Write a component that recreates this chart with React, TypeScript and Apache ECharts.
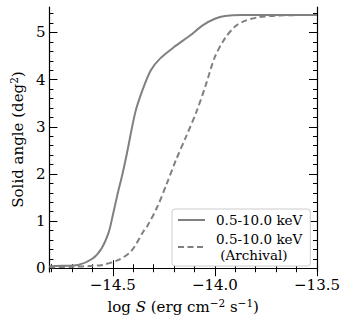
import React, { useEffect, useRef } from "react";
import * as echarts from "echarts";

const solidX = [-14.81, -14.75, -14.67, -14.6, -14.555, -14.52, -14.5, -14.475, -14.455, -14.43, -14.39, -14.355, -14.315, -14.27, -14.2, -14.12, -14.06, -14.0, -13.95, -13.87, -13.7, -13.5];
const solidY = [0.04, 0.05, 0.07, 0.2, 0.42, 0.76, 1.12, 1.6, 1.95, 2.45, 3.3, 3.77, 4.19, 4.44, 4.69, 4.94, 5.15, 5.29, 5.35, 5.37, 5.37, 5.37];

const archX = [-14.81, -14.7, -14.6, -14.55, -14.475, -14.41, -14.35, -14.33, -14.28, -14.235, -14.19, -14.14, -14.09, -14.045, -14.0, -13.95, -13.9, -13.85, -13.79, -13.69, -13.5];
const archY = [0.02, 0.03, 0.05, 0.07, 0.17, 0.36, 0.78, 0.9, 1.32, 1.8, 2.3, 2.8, 3.32, 3.88, 4.48, 4.88, 5.13, 5.25, 5.32, 5.36, 5.37];

const xMajorTicks = [-14.5, -14.0, -13.5];
const xMinorTicks = [-14.8, -14.7, -14.6, -14.4, -14.3, -14.2, -14.1, -13.9, -13.8, -13.7, -13.6];
const yMajorTicks = [0, 1, 2, 3, 4, 5];
const yMinorTicks = [0.2, 0.4, 0.6, 0.8, 1.2, 1.4, 1.6, 1.8, 2.2, 2.4, 2.6, 2.8, 3.2, 3.4, 3.6, 3.8, 4.2, 4.4, 4.6, 4.8, 5.2, 5.4];

const seriesNames = ["0.5-10.0 keV", "0.5-10.0 keV\n (Archival)"];

const X_MIN = -14.81;
const X_MAX = -13.5;
const Y_MIN = -0.08;
const Y_MAX = 5.54;

const FONT = "DejaVu Serif";
const GRAY = "#808080";

export default function App() {
  const ref = useRef<HTMLDivElement>(null);
  useEffect(() => {
    if (!ref.current) return;
    const chart = echarts.init(ref.current, undefined, { renderer: "svg" });
    const axisLine = { show: true, lineStyle: { color: "#000", width: 1.2 } };
    const fmtX = (v: number) => (v < 0 ? "\u2212" : "") + Math.abs(v).toFixed(1);
    const mkX = (pos: "bottom" | "top", vals: number[], len: number, labels: boolean, line: boolean) => ({
      type: "value",
      position: pos,
      min: X_MIN,
      max: X_MAX,
      axisLine: line ? axisLine : { show: false },
      axisTick: { show: true, inside: true, length: len, customValues: vals, lineStyle: { color: "#000", width: 1 } },
      axisLabel: labels
        ? { show: true, customValues: vals, formatter: fmtX, fontFamily: FONT, fontSize: 15, color: "#000", margin: 5 }
        : { show: false },
      splitLine: { show: false },
    });
    const mkY = (pos: "left" | "right", vals: number[], len: number, labels: boolean, line: boolean) => ({
      type: "value",
      position: pos,
      min: Y_MIN,
      max: Y_MAX,
      axisLine: line ? axisLine : { show: false },
      axisTick: { show: true, inside: true, length: len, customValues: vals, lineStyle: { color: "#000", width: 1 } },
      axisLabel: labels
        ? { show: true, customValues: vals, formatter: (v: number) => String(v), fontFamily: FONT, fontSize: 15, color: "#000", margin: 4 }
        : { show: false },
      splitLine: { show: false },
    });
    const xAxes: any[] = [
      mkX("bottom", xMajorTicks, 8, true, true),
      mkX("bottom", xMinorTicks, 4, false, false),
      mkX("top", xMajorTicks, 8, false, true),
      mkX("top", xMinorTicks, 4, false, false),
    ];
    xAxes[0].name = "log {it|S} (erg cm{sup|\u22122} s{sup|\u22121})";
    xAxes[0].nameLocation = "middle";
    xAxes[0].nameGap = 25;
    xAxes[0].nameTextStyle = {
      fontFamily: FONT,
      fontSize: 15,
      color: "#000",
      rich: {
        it: { fontFamily: FONT, fontStyle: "italic", fontSize: 15, color: "#000" },
        sup: { fontFamily: FONT, fontSize: 10.5, color: "#000", verticalAlign: "bottom", padding: [0, 0, 8, 0] },
      },
    };
    const yAxes: any[] = [
      mkY("left", yMajorTicks, 8, true, true),
      mkY("left", yMinorTicks, 4, false, false),
      mkY("right", yMajorTicks, 8, false, true),
      mkY("right", yMinorTicks, 4, false, false),
    ];
    yAxes[0].name = "Solid angle (deg{sup|2})";
    yAxes[0].nameLocation = "middle";
    yAxes[0].nameGap = 22;
    yAxes[0].nameTextStyle = {
      fontFamily: FONT,
      fontSize: 15,
      color: "#000",
      rich: {
        sup: { fontFamily: FONT, fontSize: 10.5, color: "#000", verticalAlign: "bottom", padding: [0, 0, 8, 0] },
      },
    };
    chart.setOption({
      animation: false,
      grid: { left: 44, right: 33, top: 7, bottom: 52, containLabel: false },
      xAxis: xAxes,
      yAxis: yAxes,
      legend: {
        orient: "vertical",
        left: 172,
        top: 209,
        padding: [3, 8, 3, 5],
        itemGap: 3,
        itemWidth: 27,
        itemHeight: 14,
        borderColor: "#cccccc",
        borderWidth: 1,
        borderRadius: 3,
        backgroundColor: "#ffffff",
        itemStyle: { opacity: 0 },
        textStyle: { fontFamily: FONT, fontSize: 13.5, color: "#000", lineHeight: 16, padding: [0, 0, 0, 6] },
        data: seriesNames,
      },
      series: [
        {
          name: seriesNames[0],
          type: "line",
          xAxisIndex: 0,
          yAxisIndex: 0,
          data: solidX.map((x, i) => [x, solidY[i]]),
          showSymbol: false,
          symbol: "none",
          smooth: 0.3,
          lineStyle: { color: GRAY, width: 2 },
          itemStyle: { color: GRAY },
        },
        {
          name: seriesNames[1],
          type: "line",
          xAxisIndex: 0,
          yAxisIndex: 0,
          data: archX.map((x, i) => [x, archY[i]]),
          showSymbol: false,
          symbol: "none",
          smooth: 0.3,
          lineStyle: { color: GRAY, width: 2, type: [6, 3.5] },
          itemStyle: { color: GRAY },
        },
      ],
    });
    return () => chart.dispose();
  }, []);
  return <div ref={ref} style={{ width: 350, height: 324, position: "absolute", left: 0, top: 0 }} />;
}
